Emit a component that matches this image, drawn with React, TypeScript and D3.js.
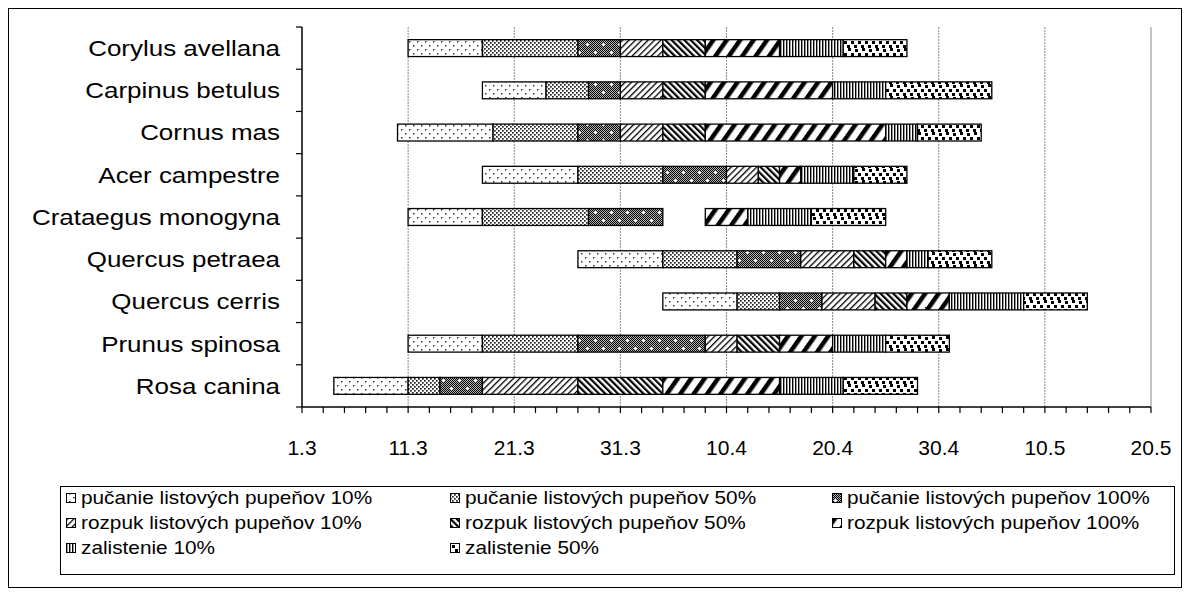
import React from 'react';
import * as d3 from 'd3';

// Categories (top to bottom)
const species = [
  'Corylus avellana',
  'Carpinus betulus',
  'Cornus mas',
  'Acer campestre',
  'Crataegus monogyna',
  'Quercus petraea',
  'Quercus cerris',
  'Prunus spinosa',
  'Rosa canina',
];

const phaseNames = [
  'pučanie listových pupeňov 10%',
  'pučanie listových pupeňov 50%',
  'pučanie listových pupeňov 100%',
  'rozpuk listových pupeňov 10%',
  'rozpuk listových pupeňov 50%',
  'rozpuk listových pupeňov 100%',
  'zalistenie 10%',
  'zalistenie 50%',
];

// [start, end] in days after 1 March, one per species (null = none)
type Seg = [number, number] | null;
const pucanie10: Seg[] = [[10, 17], [17, 23], [9, 18], [17, 26], [10, 17], [26, 34], [34, 41], [10, 17], [3, 10]];
const pucanie50: Seg[] = [[17, 26], [23, 27], [18, 26], [26, 34], [17, 27], [34, 41], [41, 45], [17, 26], [10, 13]];
const pucanie100: Seg[] = [[26, 30], [27, 30], [26, 30], [34, 40], [27, 34], [41, 47], [45, 49], [26, 38], [13, 17]];
const rozpuk10: Seg[] = [[30, 34], [30, 34], [30, 34], [40, 43], null, [47, 52], [49, 54], [38, 41], [17, 26]];
const rozpuk50: Seg[] = [[34, 38], [34, 38], [34, 38], [43, 45], null, [52, 55], [54, 57], [41, 45], [26, 34]];
const rozpuk100: Seg[] = [[38, 45], [38, 50], [38, 55], [45, 47], [38, 42], [55, 57], [57, 61], [45, 50], [34, 45]];
const zalistenie10: Seg[] = [[45, 51], [50, 55], [55, 58], [47, 52], [42, 48], [57, 59], [61, 68], [50, 55], [45, 51]];
const zalistenie50: Seg[] = [[51, 57], [55, 65], [58, 64], [52, 57], [48, 55], [59, 65], [68, 74], [55, 61], [51, 58]];

const tickDays = [0, 10, 20, 30, 40, 50, 60, 70, 80];
const tickLabels = ['1.3', '11.3', '21.3', '31.3', '10.4', '20.4', '30.4', '10.5', '20.5'];

const series = [pucanie10, pucanie50, pucanie100, rozpuk10, rozpuk50, rozpuk100, zalistenie10, zalistenie50];

const FONT = "'Liberation Sans', Arial, sans-serif";

function Patterns() {
  const chk: JSX.Element[] = [];
  const plusCenters = [[3, 4], [11, 12]];
  const isPlus = (x: number, y: number) =>
    plusCenters.some(([cx, cy]) => (x === cx && Math.abs(y - cy) <= 1) || (y === cy && Math.abs(x - cx) <= 1));
  for (let y = 0; y < 16; y++) {
    for (let x = 0; x < 16; x++) {
      if ((x + y) % 2 === 0 && !isPlus(x, y)) chk.push(<rect key={`${x}-${y}`} x={x} y={y} width={1} height={1} fill="#000" />);
    }
  }
  const confetti = [[1, 1], [8, 0], [4, 5], [11, 5], [0, 9], [7, 9]];
  return (
    <defs>
      <pattern id="p0" width={8} height={8} patternUnits="userSpaceOnUse">
        <rect width={8} height={8} fill="#fff" />
        <rect x={1} y={1} width={1.5} height={1.5} fill="#333" />
        <rect x={5} y={5} width={1.5} height={1.5} fill="#333" />
      </pattern>
      <pattern id="p1" width={4} height={4} patternUnits="userSpaceOnUse">
        <rect width={4} height={4} fill="#fff" />
        <rect x={0} y={0} width={1.7} height={1.7} fill="#222" />
        <rect x={2} y={2} width={1.7} height={1.7} fill="#222" />
      </pattern>
      <pattern id="p2" width={16} height={16} patternUnits="userSpaceOnUse">
        <rect width={16} height={16} fill="#b4b4b4" />
        {chk}
        {plusCenters.map(([cx, cy], i) => (
          <g key={i} fill="#fff">
            <rect x={cx - 1} y={cy} width={3} height={1} />
            <rect x={cx} y={cy - 1} width={1} height={3} />
          </g>
        ))}
      </pattern>
      <pattern id="p3" width={4.5} height={4.5} patternUnits="userSpaceOnUse" patternTransform="rotate(45)">
        <rect width={4.5} height={4.5} fill="#fff" />
        <rect x={0} y={0} width={1.3} height={4.5} fill="#000" />
      </pattern>
      <pattern id="p4" width={4.5} height={4.5} patternUnits="userSpaceOnUse" patternTransform="rotate(-45)">
        <rect width={4.5} height={4.5} fill="#fff" />
        <rect x={0} y={0} width={2.2} height={4.5} fill="#000" />
      </pattern>
      <pattern id="p5" width={11} height={11} patternUnits="userSpaceOnUse" patternTransform="rotate(35)">
        <rect width={11} height={11} fill="#fff" />
        <rect x={0} y={0} width={4.5} height={11} fill="#000" />
      </pattern>
      <pattern id="p6" width={3} height={3} patternUnits="userSpaceOnUse">
        <rect width={3} height={3} fill="#fff" />
        <rect x={0} y={0} width={1.4} height={3} fill="#000" />
      </pattern>
      <pattern id="p7" width={14} height={12} patternUnits="userSpaceOnUse">
        <rect width={14} height={12} fill="#fff" />
        {confetti.map(([x, y], i) => (
          <rect key={i} x={x} y={y} width={3} height={3} fill="#000" />
        ))}
      </pattern>
    </defs>
  );
}

export default function App() {
  const W = 1190;
  const H = 596;
  const plotTop = 27;
  const plotBottom = 407;
  const x = d3.scaleLinear().domain([0, 80]).range([302, 1151]);
  const y = d3.scaleBand<string>().domain(species).range([plotTop, plotBottom]).paddingInner(0.6).paddingOuter(0.3);
  const step = (plotBottom - plotTop) / species.length;
  const minorTicks = d3.range(0, 81, 2);

  const legendCols = [66, 450, 832];
  const legendRows = [498, 523, 548];

  const catSx = 1.18;
  const legSx = 1.155;

  return (
    <>
      <style>{'body{margin:0}'}</style>
      <svg width={W} height={H} style={{ display: 'block' }} fontFamily={FONT}>
        <Patterns />
        <rect x={0} y={0} width={W} height={H} fill="#fff" />
        <rect x={8.5} y={8.5} width={1173} height={579} fill="none" stroke="#000" strokeWidth={1} />

        {/* gridlines */}
        {tickDays.slice(1).map((d, i) => (
          <line
            key={d}
            x1={x(d)}
            x2={x(d)}
            y1={plotTop}
            y2={plotBottom}
            stroke="#8a8a8a"
            strokeWidth={1}
            strokeDasharray={i === tickDays.length - 2 ? undefined : '2,1'}
          />
        ))}

        {/* bars */}
        {species.map((s, si) =>
          series.map((ser, pi) => {
            const seg = ser[si];
            if (!seg) return null;
            return (
              <rect
                key={`${si}-${pi}`}
                x={x(seg[0])}
                y={y(s)!}
                width={x(seg[1]) - x(seg[0])}
                height={y.bandwidth()}
                fill={`url(#p${pi})`}
                stroke="#000"
                strokeWidth={1.3}
              />
            );
          })
        )}

        {/* y axis */}
        <line x1={302} x2={302} y1={plotTop} y2={plotBottom} stroke="#000" strokeWidth={1.5} />
        {d3.range(species.length + 1).map((i) => (
          <line key={i} x1={296} x2={302} y1={plotTop + i * step} y2={plotTop + i * step} stroke="#000" strokeWidth={1.2} />
        ))}
        {species.map((s) => (
          <text
            key={s}
            transform={`translate(280,${y(s)! + y.bandwidth() / 2}) scale(${catSx},1)`}
            dy="0.36em"
            textAnchor="end"
            fontSize={22}
            fill="#000"
          >
            {s}
          </text>
        ))}

        {/* x axis */}
        <line x1={302} x2={1151} y1={plotBottom} y2={plotBottom} stroke="#000" strokeWidth={1.5} />
        {minorTicks.map((d) => (
          <line key={d} x1={x(d)} x2={x(d)} y1={plotBottom} y2={plotBottom + 6} stroke="#000" strokeWidth={1.2} />
        ))}
        {tickDays.map((d, i) => (
          <text key={d} x={x(d)} y={447} dy="0.36em" textAnchor="middle" fontSize={21} fill="#000">
            {tickLabels[i]}
          </text>
        ))}

        {/* legend */}
        <rect x={60.5} y={486.5} width={1114} height={88} fill="#fff" stroke="#000" strokeWidth={1} />
        {phaseNames.map((name, i) => {
          const cx = legendCols[i % 3];
          const cy = legendRows[Math.floor(i / 3)];
          return (
            <g key={name}>
              <rect x={cx + 0.5} y={cy - 4.5} width={9} height={9} fill={`url(#p${i})`} stroke="#000" strokeWidth={1} />
              <text transform={`translate(${cx + 15},${cy}) scale(${legSx},1)`} dy="0.36em" fontSize={18} fill="#000">
                {name}
              </text>
            </g>
          );
        })}
      </svg>
    </>
  );
}
